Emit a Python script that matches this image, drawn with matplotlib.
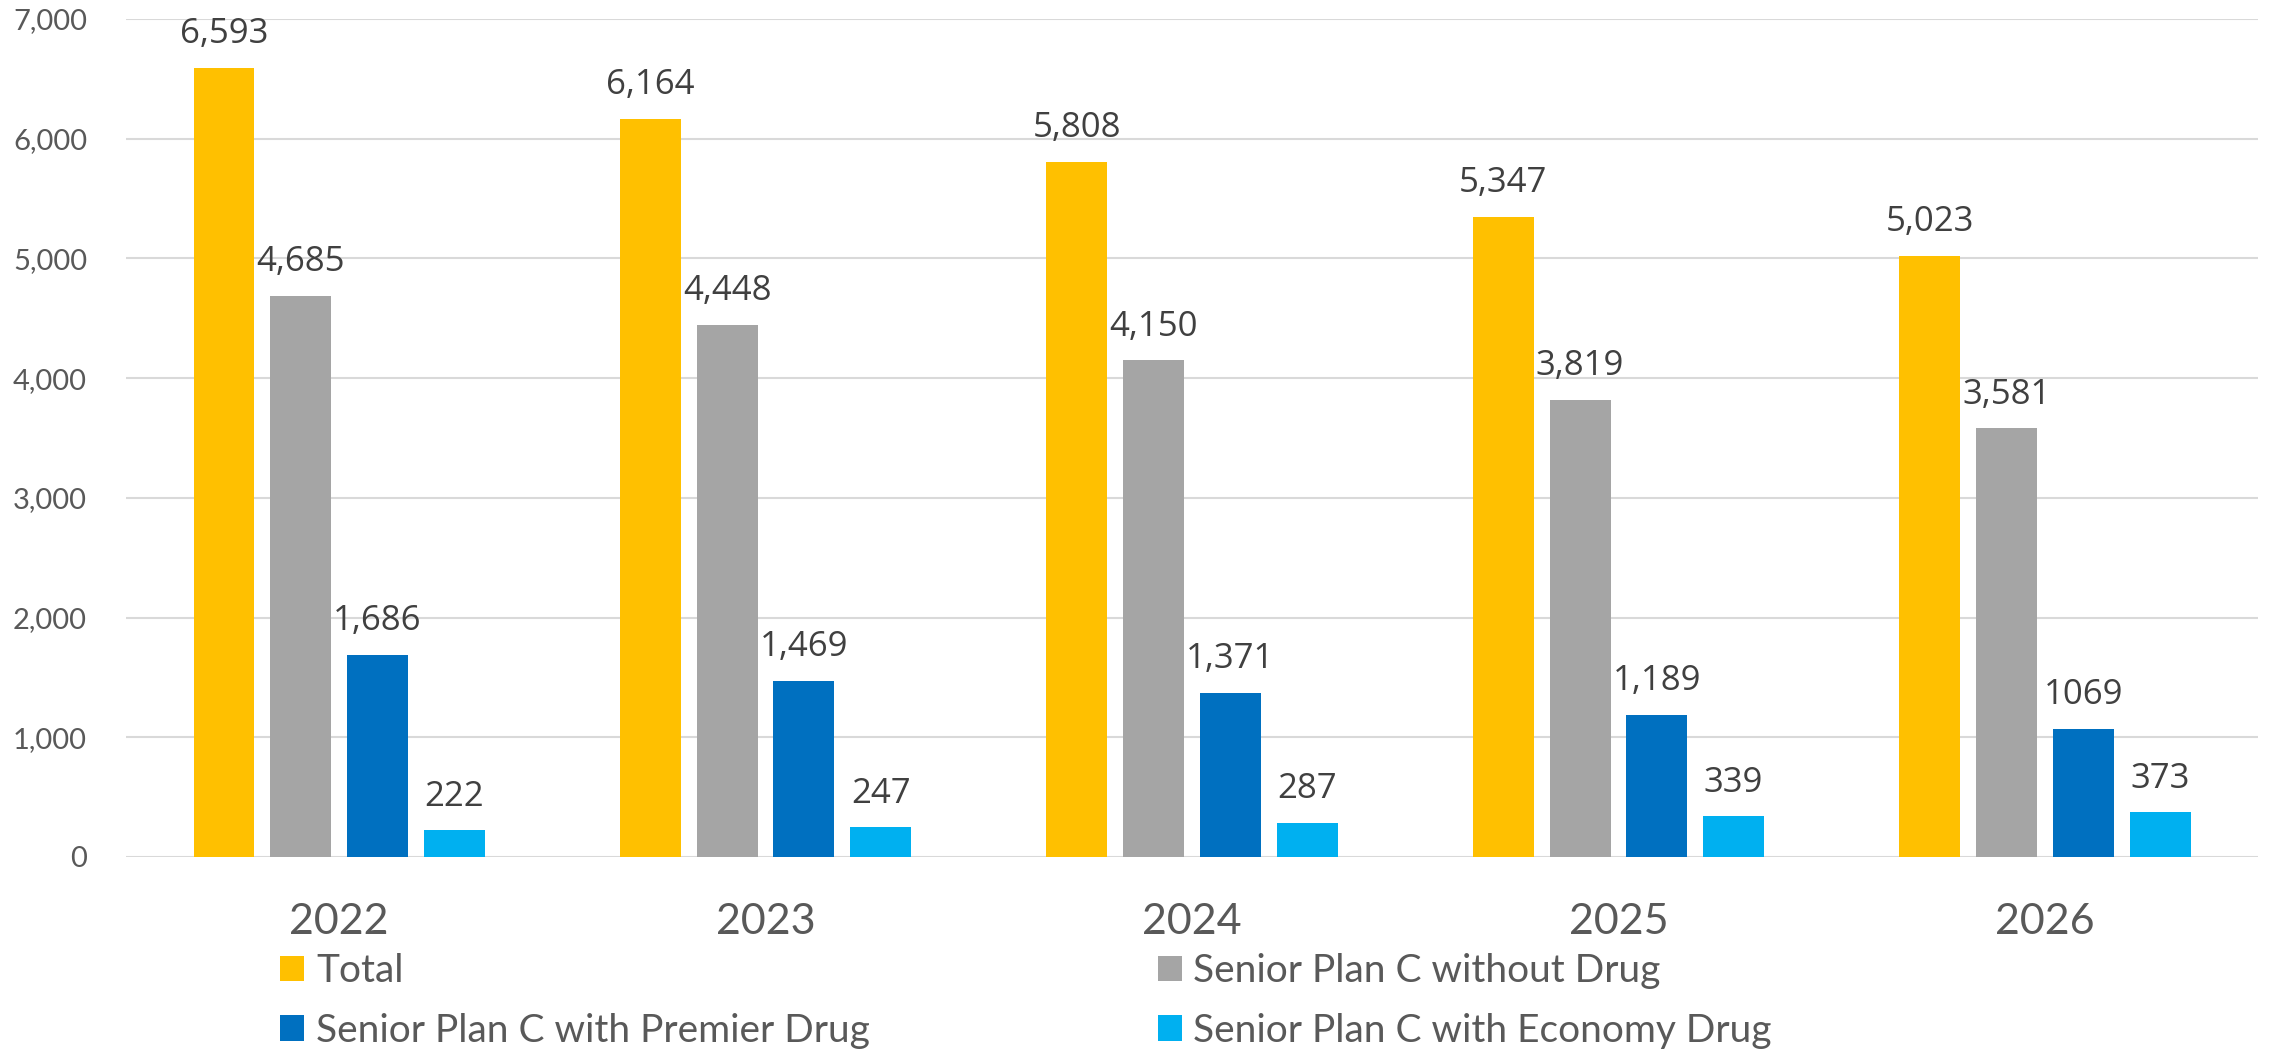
import numpy as np
import matplotlib
matplotlib.use('Agg')
import matplotlib.pyplot as plt
from matplotlib.patches import Patch

# годы и ряды данных
years = ['2022', '2023', '2024', '2025', '2026']
total = [6593, 6164, 5808, 5347, 5023]
no_drug = [4685, 4448, 4150, 3819, 3581]
premier = [1686, 1469, 1371, 1189, 1069]
economy = [222, 247, 287, 339, 373]

series_names = ['Total', 'Senior Plan C without Drug',
                'Senior Plan C with Premier Drug', 'Senior Plan C with Economy Drug']
colors = ['#FFC000', '#A5A5A5', '#0070C0', '#00B0F0']
# подписи над столбцами (у последнего года без запятой)
labels = [
    ['6,593', '6,164', '5,808', '5,347', '5,023'],
    ['4,685', '4,448', '4,150', '3,819', '3,581'],
    ['1,686', '1,469', '1,371', '1,189', '1069'],
    ['222', '247', '287', '339', '373'],
]

plt.rcParams['font.family'] = ['Lato', 'DejaVu Sans']

fig = plt.figure(figsize=(22.69, 10.51), dpi=100)
ax = fig.add_axes([0.0555, 0.1846, 0.9397, 0.7973])

x = np.arange(len(years))
w = 0.143
step = 0.18
data = [total, no_drug, premier, economy]
for i, vals in enumerate(data):
    pos = x + (i - 1.5) * step
    bars = ax.bar(pos, vals, w, color=colors[i], zorder=3)
    for b, t in zip(bars, labels[i]):
        ax.annotate(t, (b.get_x() + b.get_width() / 2, b.get_height()),
                    xytext=(0, 12), textcoords='offset points',
                    ha='center', va='bottom', fontsize=25,
                    family='Open Sans', color='#404040')

ax.set_xlim(-0.5, 4.5)
ax.set_ylim(0, 7000)
ax.set_yticks(range(0, 7001, 1000))
ax.set_yticklabels([f'{v:,}' for v in range(0, 7001, 1000)])
ax.set_xticks(x)
ax.set_xticklabels(years)
ax.tick_params(axis='y', length=0, pad=28, labelsize=21, labelcolor='#595959')
ax.tick_params(axis='x', length=0, pad=33, labelsize=31, labelcolor='#595959')
ax.grid(axis='y', color='#D9D9D9', linewidth=1.5, zorder=0)
ax.set_axisbelow(True)
for s in ax.spines.values():
    s.set_visible(False)

# легенда в две колонки, заполняется по строкам
order = [0, 2, 1, 3]
handles = [Patch(facecolor=colors[k]) for k in order]
fig.legend(handles, [series_names[k] for k in order], ncol=2, frameon=False,
           loc='upper left', bbox_to_anchor=(0.1235, 0.093),
           fontsize=28, labelcolor='#595959',
           handlelength=0.62, handleheight=0.62, handletextpad=0.3,
           columnspacing=7.4, labelspacing=0.6, borderpad=0, borderaxespad=0)

plt.savefig('out.png', dpi=100)
